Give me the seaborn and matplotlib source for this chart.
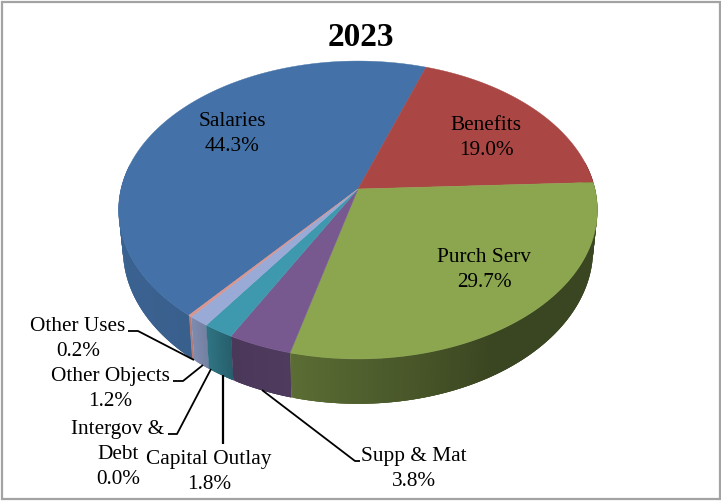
import numpy as np
import matplotlib
matplotlib.use("Agg")
import matplotlib.pyplot as plt
import seaborn as sns

# Budget shares for 2023, in percent, clockwise from the first slice
categories = ["Salaries", "Benefits", "Purch Serv", "Supp & Mat",
              "Capital Outlay", "Intergov & Debt", "Other Objects", "Other Uses"]
shares = [44.3, 19.0, 29.7, 3.8, 1.8, 0.0, 1.2, 0.2]
top_colors = ["#4472a8", "#aa4643", "#8ba64f", "#77598f",
              "#3f99ae", "#5b7fb5", "#9aaad6", "#d9958f"]
title_text = "2023"

sns.set_theme(style="white")
plt.rcParams["font.family"] = ["Liberation Serif", "DejaVu Serif"]
palette = sns.color_palette(top_colors)

fig = plt.figure(figsize=(7.21, 5.02), dpi=100)
ax = fig.add_axes([0, 0, 1, 1])
ax.set_xlim(0, 721)
ax.set_ylim(502, 0)
ax.axis("off")

# Tilted disc: unit-circle coordinates projected with a simple perspective
CX, CY = 358.0, 190.0
A, Y, K = 237.0, 146.0, 0.141
DEPTH = 38.5
FLOOR_SHRINK = 0.982
START = 19.0 - shares[0] * 3.6


def project(theta_deg):
    t = np.radians(theta_deg)
    u, v = np.sin(t), np.cos(t)
    w = 1 + K * v
    return CX + A * u / w, CY - Y * v / w, w


def wall_shade(angle):
    """Brightness of the side wall at a rim angle, dim on the right, bright on the left."""
    return np.interp(angle, [80, 150, 195, 208, 214, 220, 280],
                     [0.42, 0.42, 0.66, 0.62, 0.75, 0.84, 0.88])


edges = START + np.concatenate([[0], np.cumsum(shares)]) * 3.6

# Side wall, painted in overlapping strips so no seams show
for i in range(len(shares) - 1, -1, -1):
    if shares[i] == 0:
        continue
    col = palette[i]
    for a1 in np.arange(edges[i + 1], edges[i], -0.5):
        a0 = max(a1 - 1.5, edges[i])
        mid = (a1 - 0.25) % 360
        if not 80 < mid < 280:
            continue
        x0, y0, w0 = project(a0)
        x1, y1, w1 = project(a1)
        face = tuple(c * wall_shade(mid) for c in col)
        bx0 = CX + (x0 - CX) * FLOOR_SHRINK
        bx1 = CX + (x1 - CX) * FLOOR_SHRINK
        ax.fill([x0, x1, bx1, bx0],
                [y0, y1, y1 + DEPTH / w1, y0 + DEPTH / w0],
                color=face, lw=0, zorder=2)

# Top face of the pie
for i, col in enumerate(palette):
    if shares[i] == 0:
        continue
    t = np.linspace(edges[i], edges[i + 1], 200)
    xs, ys, _ = project(t)
    ax.fill(np.r_[CX, xs], np.r_[CY, ys], color=col, lw=0.3, zorder=3)

# Leader lines for the thin slices
leaders = [
    ([128, 138, 194], [332, 332, 361], 1.3),
    ([173, 183, 203], [382, 382, 366], 1.3),
    ([168, 177, 211], [435, 435, 370], 1.3),
    ([223, 223], [376, 445], 1.6),
    ([262, 355, 360], [391, 462, 462], 1.3),
]
for xs, ys, lw in leaders:
    ax.plot(xs, ys, color="black", lw=lw, zorder=4, solid_capstyle="butt")

# Slice labels
labels = [
    ("Salaries\n44.3%", 232, 134),
    ("Benefits\n19.0%", 486, 138),
    ("Purch Serv\n29.7%", 484, 270),
    ("Other Uses\n0.2%", 78, 339),
    ("Other Objects\n1.2%", 110, 389),
    ("Intergov &", 118, 430),
    ("Debt\n0.0%", 118, 467),
    ("Capital Outlay\n1.8%", 209, 472),
    ("Supp & Mat\n3.8%", 414, 469),
]
for text, x, y in labels:
    ax.text(x, y, text, ha="center", va="center", fontsize=15.3,
            color="black", linespacing=1.45, zorder=5)

ax.text(361, 37, title_text, ha="center", va="center", fontsize=24,
        fontweight="bold", color="black", zorder=5)

# Chart frame
ax.add_patch(plt.Rectangle((1.5, 2.5), 718.5, 497.5, fill=False,
                           edgecolor="#a3a3a3", lw=1.6, zorder=6))

fig.savefig("out.png", dpi=100, facecolor="white")
